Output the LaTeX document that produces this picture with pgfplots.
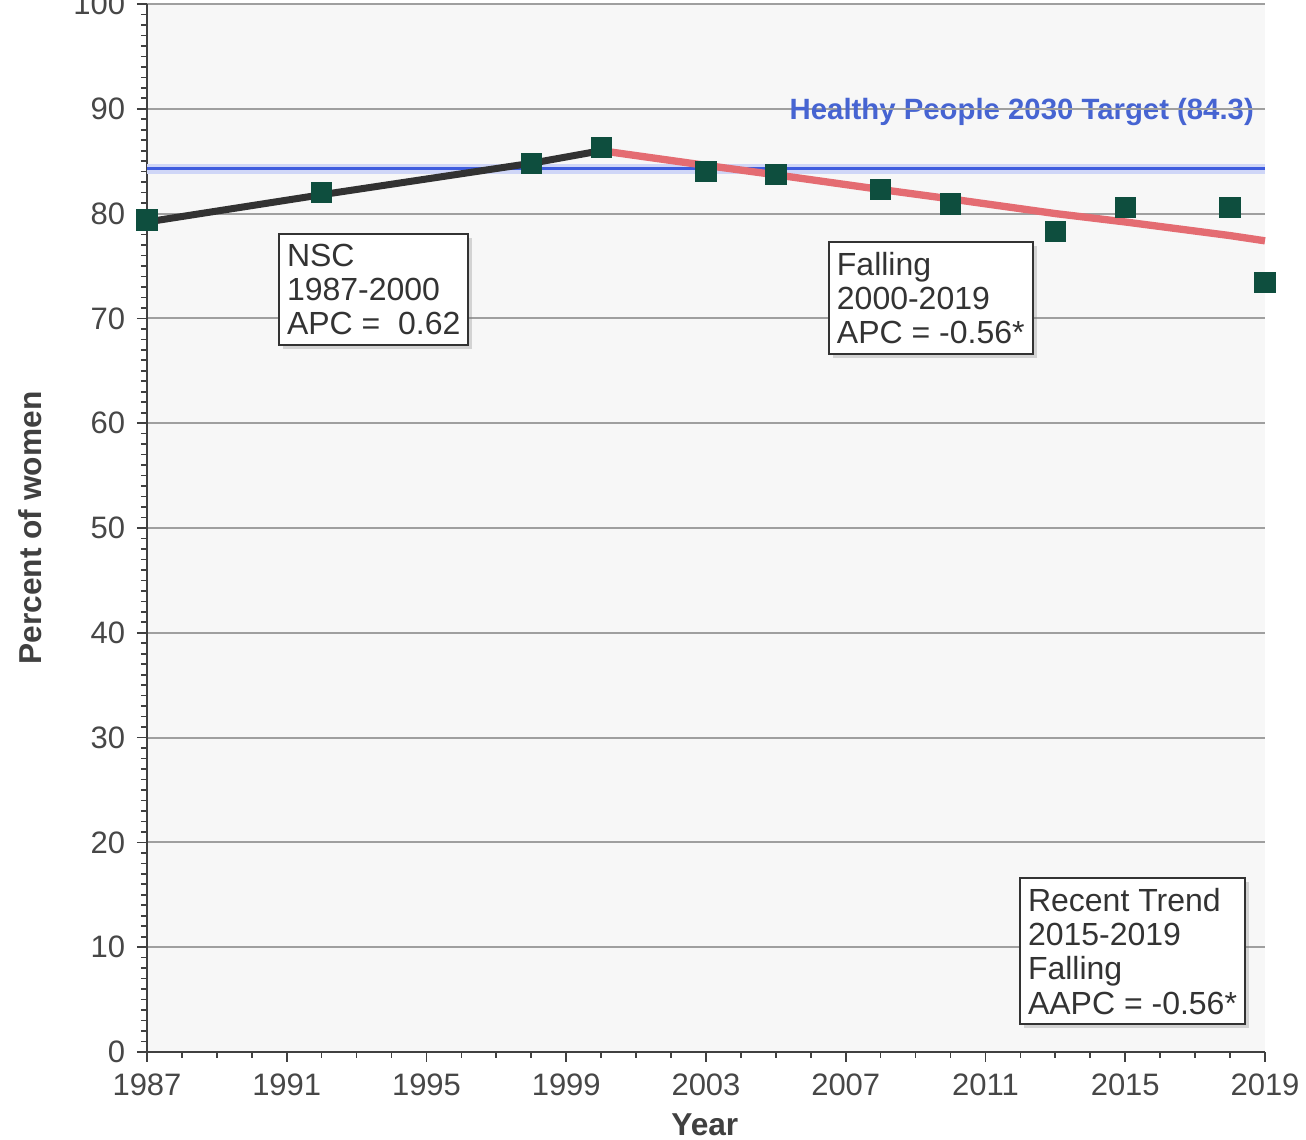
\documentclass[border=0pt]{standalone}
\usepackage{fontspec}
\setmainfont{Liberation Sans}
\usepackage{pgfplots}
\pgfplotsset{compat=1.18}
\usetikzlibrary{shadows}

\definecolor{markgreen}{RGB}{14,78,62}
\definecolor{trendred}{RGB}{228,108,114}
\definecolor{trendgray}{RGB}{50,50,50}
\definecolor{targetblue}{RGB}{62,92,222}
\definecolor{labelblue}{RGB}{70,100,210}

\tikzset{note/.style={draw=black!80, line width=0.6pt, fill=white, align=left,
  anchor=north west, font=\fontsize{9.6}{10.3}\selectfont, text=black!80,
  inner xsep=2.4pt, inner ysep=3pt,
  drop shadow={shadow xshift=1.2pt, shadow yshift=-1.2pt, opacity=0.3}}}

\begin{document}
\begin{tikzpicture}
\begin{axis}[
  name=ax,
  scale only axis, width=335.4pt, height=314.4pt,
  xmin=1987, xmax=2019, ymin=0, ymax=100,
  clip=false,
  axis x line*=bottom, axis y line*=left,
  axis line style={black!75, line width=0.6pt, -},
  xtick={1987,1991,...,2019}, minor xtick={1987,...,2019},
  ytick={0,10,...,100}, minor ytick={0,...,100},
  tick align=outside,
  major tick length=3pt, minor tick length=1.8pt,
  tick style={black!75, line width=0.5pt},
  ymajorgrids, grid style={gray!75, line width=0.6pt},
  axis background/.style={fill=gray!6},
  ticklabel style={font=\fontsize{9.3}{11}\selectfont, text=black!72},
  /pgf/number format/1000 sep={},
  /pgf/number format/assume math mode=true,
  xlabel={Year},
  xlabel style={at={(axis description cs:0.499,-0.0697)}, anchor=center,
    font=\bfseries\fontsize{9.5}{11}\selectfont, text=black!75},
  ylabel={Percent of women},
  ylabel style={at={(axis description cs:-0.1047,0.5)}, anchor=center,
    font=\bfseries\fontsize{9.5}{11}\selectfont, text=black!75},
]
% Healthy People 2030 target
\addplot[targetblue!25, line width=3pt] coordinates {(1987,84.3) (2019,84.3)};
\addplot[targetblue, line width=1pt] coordinates {(1987,84.3) (2019,84.3)};
% Joinpoint segments
\addplot[trendgray, line width=2.1pt] coordinates {(1987,79.2) (1992,81.8) (1998,84.8) (2000,86.0)};
\addplot[trendred, line width=2.2pt] coordinates {(2000,86.0) (2003,84.6) (2005,83.7) (2008,82.3)
  (2010,81.4) (2013,80.0) (2015,79.2) (2018,77.9) (2019,77.4)};
% Observed percentages
\addplot[only marks, mark=square*, mark size=3pt, markgreen] coordinates {
  (1987,79.4) (1992,82.0) (1998,84.8) (2000,86.3) (2003,84.0) (2005,83.7)
  (2008,82.3) (2010,80.9) (2013,78.3) (2015,80.6) (2018,80.6) (2019,73.4)};

\node[anchor=east, font=\bfseries\fontsize{8.8}{10}\selectfont, text=labelblue, inner sep=0pt]
  at (axis cs:2018.7,89.7) {Healthy People 2030 Target (84.3)};
\draw[gray!75, line width=0.6pt] (axis cs:2008,90) -- (axis cs:2019,90);

\node[note] at (axis cs:1990.75,78.15) {NSC\\1987-2000\\APC =\ \ 0.62};
\node[note] at (axis cs:2006.49,77.4) {Falling\\2000-2019\\APC = -0.56*};
\node[note] at (axis cs:2011.96,16.7) {Recent Trend\\2015-2019\\Falling\\AAPC = -0.56*};
\end{axis}
\pgfresetboundingbox
\path ([shift={(-44.1pt,-26.4pt)}]ax.south west) rectangle ([shift={(347.7pt,315.6pt)}]ax.south west);
\end{tikzpicture}
\end{document}
